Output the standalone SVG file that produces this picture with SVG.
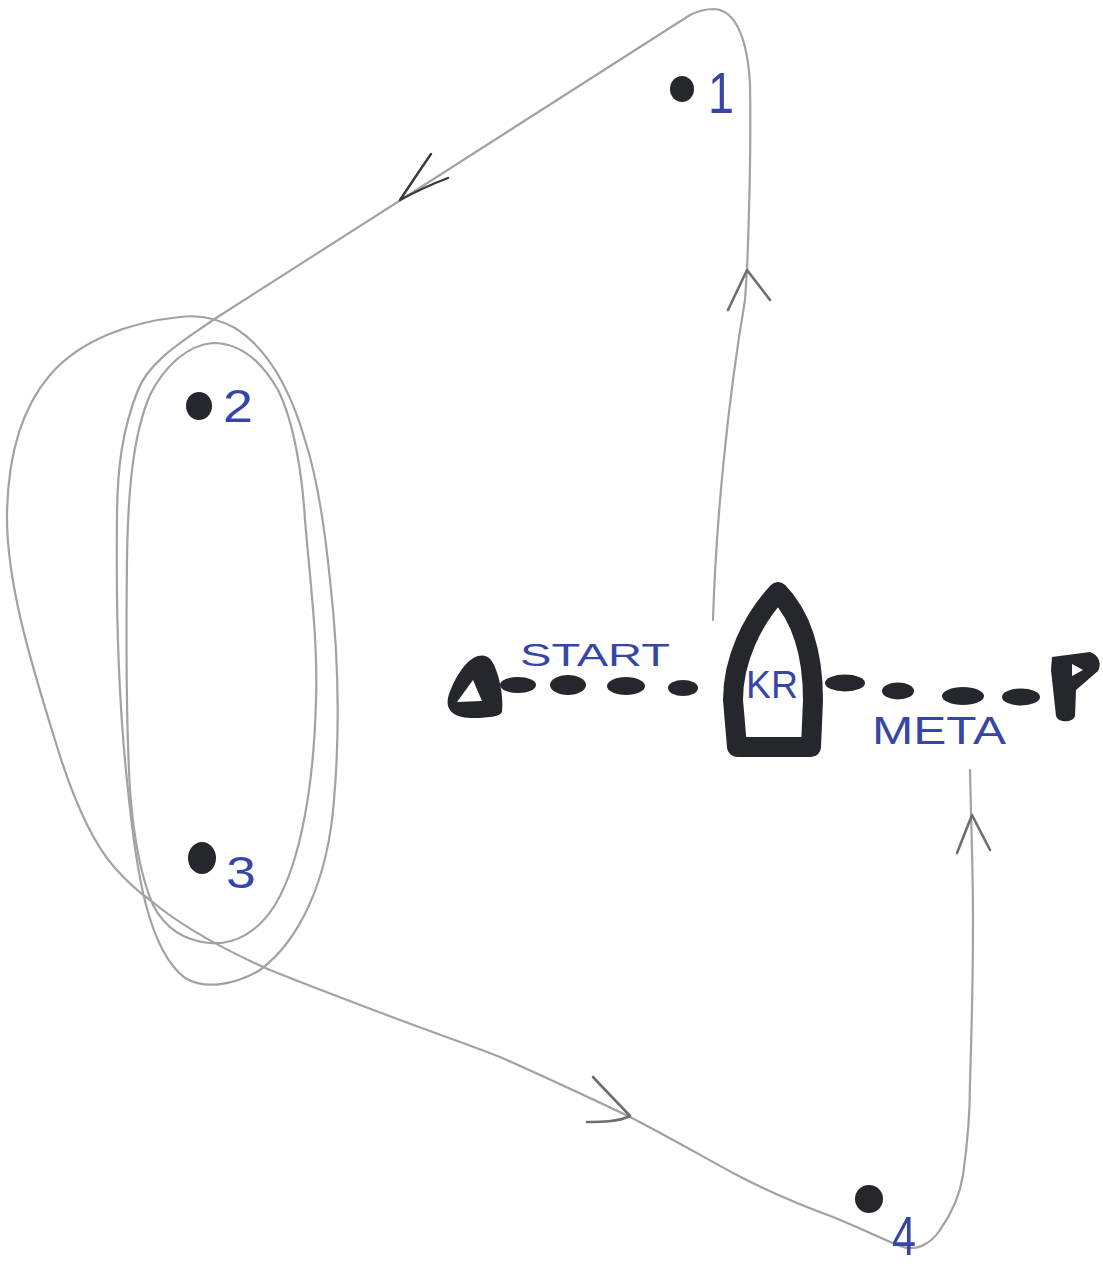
<svg xmlns="http://www.w3.org/2000/svg" width="1103" height="1269" viewBox="0 0 1103 1269">
<style>
.pencil{fill:none;stroke:#a2a2a2;stroke-width:2.2;stroke-linecap:round;stroke-linejoin:round}
.head{fill:none;stroke:#6e6e6e;stroke-width:2.6;stroke-linecap:round;stroke-linejoin:round}
.headpen{fill:none;stroke:#3a3a3a;stroke-width:2.4;stroke-linecap:round;stroke-linejoin:round}
.ink{fill:#26262d}
.inkline{fill:none;stroke:#26262d;stroke-linejoin:round;stroke-linecap:round}
.hole{fill:#ffffff}
.lbl{font-family:"Liberation Sans",Arial,sans-serif;fill:#3646a6}
</style>
<rect x="0" y="0" width="1103" height="1269" fill="#ffffff"/>

<g id="connectors">
  <path id="course" class="pencil" d="M713,620 C716,520 728,400 745,300 L747,270 C749,220 751,140 750,85 C748,45 738,10 714,9 C705,9 698,11 690,15 L213,320 C185,340 150,360 138,390 C122,430 117,470 117,520 C116,600 118,700 128,790 C136,870 148,950 185,978 C205,990 235,985 260,970 C300,940 328,880 334,800 C340,730 338,650 330,580 C325,530 318,480 305,440 C292,395 270,350 235,328 C215,317 195,315 180,317 C130,322 80,340 50,375 C20,410 8,460 7,513 C6,580 30,660 55,740 C70,790 90,840 115,868 C130,885 140,893 150,900 C180,925 220,948 270,970 C320,990 360,1005 400,1020 C440,1035 470,1045 500,1057 C545,1077 590,1098 630,1117 C665,1135 700,1155 733,1173 C765,1190 800,1205 833,1217 C860,1228 885,1240 900,1246 C915,1252 930,1245 940,1230 C952,1213 960,1195 963,1175 C968,1140 970,1110 970,1083 C972,1020 973,960 973,917 C973,870 971,820 970,770"/>
  <path id="loop-2-3" class="pencil" d="M213,343 C240,343 262,362 278,390 C293,420 302,470 305,520 C310,580 318,640 316,700 C314,780 302,860 275,905 C258,932 235,945 210,943 C185,941 165,928 153,905 C140,875 133,830 130,790 C126,720 126,640 127,560 C128,480 135,430 150,395 C165,365 188,345 213,343 Z"/>
  <path id="arrow-up-1" class="head" d="M728,310 L747,270 L770,300"/>
  <path id="arrow-to-2" class="headpen" d="M431,154 C420,170 410,185 400,200 C415,192 432,184 448,178"/>
  <path id="arrow-to-4" class="head" d="M593,1077 C605,1090 618,1103 630,1116 C618,1122 600,1122 587,1122"/>
  <path id="arrow-to-finish" class="head" d="M957,853 L972,815 L990,850"/>
</g>

<g id="start-line">
  <ellipse class="ink" cx="518" cy="685" rx="18" ry="8"/>
  <ellipse class="ink" cx="568" cy="685" rx="18" ry="10"/>
  <ellipse class="ink" cx="626" cy="686" rx="19" ry="9"/>
  <ellipse class="ink" cx="683" cy="688" rx="15" ry="8"/>
</g>
<g id="finish-line">
  <ellipse class="ink" cx="845" cy="683" rx="20" ry="8.5"/>
  <ellipse class="ink" cx="898" cy="691" rx="16" ry="8.5"/>
  <ellipse class="ink" cx="963" cy="696" rx="21" ry="9"/>
  <ellipse class="ink" cx="1021" cy="697" rx="19" ry="8.5"/>
</g>

<g id="start-mark">
  <path class="ink" d="M478,656 C466,659 453,680 448,698 C445,713 458,719 478,718 C491,717 499,717 502,712 C504,697 499,671 491,660 C487,655 482,655 478,656 Z"/>
  <path class="hole" d="M473,680 L457,702 L482,701 Z"/>
</g>

<g id="committee-boat">
  <path class="inkline" stroke-width="20" d="M778,592 C800,615 813,650 813,700 L811,747 L737,747 L733,700 C733,660 752,620 778,592 Z"/>
  <text class="lbl" x="746" y="698" font-size="38" textLength="52" lengthAdjust="spacingAndGlyphs">KR</text>
</g>

<g id="finish-flag">
  <path class="ink" d="M1052,657 L1090,652 C1099,655 1102,664 1098,671 L1076,690 L1075,716 C1073,723 1058,723 1056,716 L1051,670 Z"/>
  <path class="hole" d="M1072,664 L1083,670 L1072,676 Z"/>
</g>

<g id="label-start">
  <text class="lbl" x="520" y="666" font-size="32" textLength="150" lengthAdjust="spacingAndGlyphs">START</text>
</g>
<g id="label-meta">
  <text class="lbl" x="872" y="744" font-size="38" textLength="134" lengthAdjust="spacingAndGlyphs">META</text>
</g>

<g id="mark-1">
  <ellipse class="ink" cx="682" cy="89" rx="12" ry="13"/>
  <text class="lbl" x="708" y="113" font-size="58" textLength="26" lengthAdjust="spacingAndGlyphs">1</text>
</g>
<g id="mark-2">
  <ellipse class="ink" cx="199" cy="406" rx="13" ry="14"/>
  <text class="lbl" x="223" y="422" font-size="46" textLength="30" lengthAdjust="spacingAndGlyphs">2</text>
</g>
<g id="mark-3">
  <ellipse class="ink" cx="202" cy="858" rx="14" ry="16"/>
  <text class="lbl" x="226" y="888" font-size="44" textLength="30" lengthAdjust="spacingAndGlyphs">3</text>
</g>
<g id="mark-4">
  <ellipse class="ink" cx="869" cy="1199" rx="14" ry="14"/>
  <text class="lbl" x="892" y="1255" font-size="56" textLength="24" lengthAdjust="spacingAndGlyphs">4</text>
</g>
</svg>
